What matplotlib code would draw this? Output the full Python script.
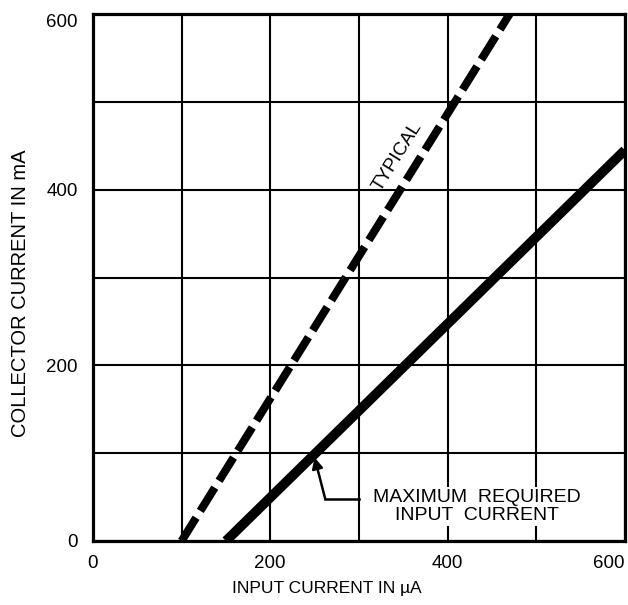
import matplotlib
matplotlib.use("Agg")
import matplotlib.pyplot as plt

plt.rcParams['font.family'] = ['Liberation Sans', 'DejaVu Sans']

# values
grid_steps = [0, 100, 200, 300, 400, 500, 600]
tick_labels = ['0', '', '200', '', '400', '', '600']

typical_x = [100, 470]      # input current, uA
typical_y = [0, 600]        # collector current, mA
max_req_x = [150, 600]
max_req_y = [0, 445]

arrow_tip = (250, 95)
arrow_corner = (262, 48)
arrow_start = (300, 48)

fig = plt.figure(figsize=(6.28, 6.05), dpi=100)
ax = fig.add_axes([0.148, 0.1058, 0.847, 0.871])

ax.set_xlim(0, 600)
ax.set_ylim(0, 600)
ax.set_xticks(grid_steps)
ax.set_yticks(grid_steps)
ax.set_xticklabels(tick_labels)
ax.set_yticklabels(tick_labels)
ax.tick_params(length=0, labelsize=13.5, pad=10)
ax.tick_params(axis='y', pad=11)
ax.grid(True, color='black', linewidth=1.5)
ax.set_axisbelow(True)
for sp in ax.spines.values():
    sp.set_linewidth(2.3)

# the end tick labels sit flush with the plot edges
for lab in ax.get_xticklabels()[-1:]:
    lab.set_horizontalalignment('right')
for lab in ax.get_yticklabels()[-1:]:
    lab.set_verticalalignment('top')

ax.plot(typical_x, typical_y, color='black', linewidth=5.8,
        dashes=(3.4, 1.0), solid_capstyle='butt', dash_capstyle='butt', zorder=4)
ax.plot(max_req_x, max_req_y, color='black', linewidth=7, solid_capstyle='butt', zorder=4)

ax.text(344, 438, 'TYPICAL', rotation=58, ha='center', va='center',
        fontsize=13.5, zorder=5)

ax.text(433, 39, 'MAXIMUM  REQUIRED\nINPUT  CURRENT', ha='center', va='center',
        fontsize=14, linespacing=1.05, zorder=5,
        bbox=dict(facecolor='white', edgecolor='none', pad=1.5))

ax.plot([arrow_start[0], arrow_corner[0]], [arrow_start[1], arrow_corner[1]],
        color='black', linewidth=1.8, zorder=5)
ax.annotate('', xy=arrow_tip, xytext=arrow_corner,
            arrowprops=dict(arrowstyle='-|>', color='black', lw=1.8,
                            mutation_scale=16, shrinkA=0, shrinkB=0),
            zorder=5)

ax.set_xlabel('INPUT CURRENT IN µA', fontsize=12.5)
ax.xaxis.set_label_coords(0.44, -0.075)
ax.set_ylabel('COLLECTOR CURRENT IN mA', fontsize=14.5)
ax.yaxis.set_label_coords(-0.118, 0.47)

fig.savefig('out.png', dpi=100)
